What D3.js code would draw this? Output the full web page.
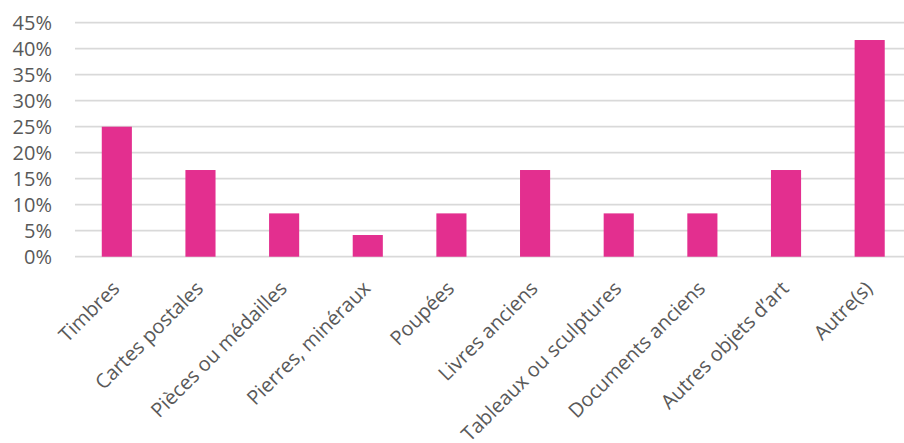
<!DOCTYPE html>
<html><head><meta charset="utf-8">
<script src="https://cdn.jsdelivr.net/npm/d3@7"></script>
<style>body{margin:0;background:#fff}svg{display:block}</style>
</head><body>
<svg id="c" width="904" height="443"></svg>
<script>
const categories = ["Timbres","Cartes postales","Pièces ou médailles","Pierres, minéraux","Poupées","Livres anciens","Tableaux ou sculptures","Documents anciens","Autres objets d’art","Autre(s)"];
const values = [25, 16.67, 8.33, 4.17, 8.33, 16.67, 8.33, 8.33, 16.67, 41.67];
const yTicks = [0,5,10,15,20,25,30,35,40,45];

const svg = d3.select("#c");
const mLeft = 75, mRight = 911.5, mTop = 22.7, mBottom = 256.7;
const x = d3.scaleBand().domain(categories).range([mLeft, mRight]).paddingInner(0.64).paddingOuter(0.32);
const y = d3.scaleLinear().domain([0,45]).range([mBottom, mTop]);
const font = "'Open Sans', sans-serif";

svg.append("g").selectAll("line").data(yTicks).join("line")
  .attr("x1", mLeft).attr("x2", 904)
  .attr("y1", d => y(d)).attr("y2", d => y(d))
  .attr("stroke", "#d9d9d9").attr("stroke-width", 1.8);

svg.append("g").selectAll("text").data(yTicks).join("text")
  .attr("x", 52).attr("y", d => y(d)).attr("dy", "0.35em")
  .attr("text-anchor", "end").attr("fill", "#595959")
  .style("font-family", font).style("font-size", "20px")
  .text(d => d + "%");

svg.append("g").selectAll("rect").data(values).join("rect")
  .attr("x", (d,i) => x(categories[i])).attr("width", x.bandwidth())
  .attr("y", d => y(d)).attr("height", d => y(0) - y(d))
  .attr("fill", "#e32f8f");

svg.append("g").selectAll("text").data(categories).join("text")
  .attr("transform", d => `translate(${x(d) + x.bandwidth()/2 + 4},${mBottom + 33}) rotate(-45)`)
  .attr("text-anchor", "end").attr("fill", "#595959")
  .style("font-family", font).style("font-size", "20px")
  .text(d => d);
</script>
</body></html>
